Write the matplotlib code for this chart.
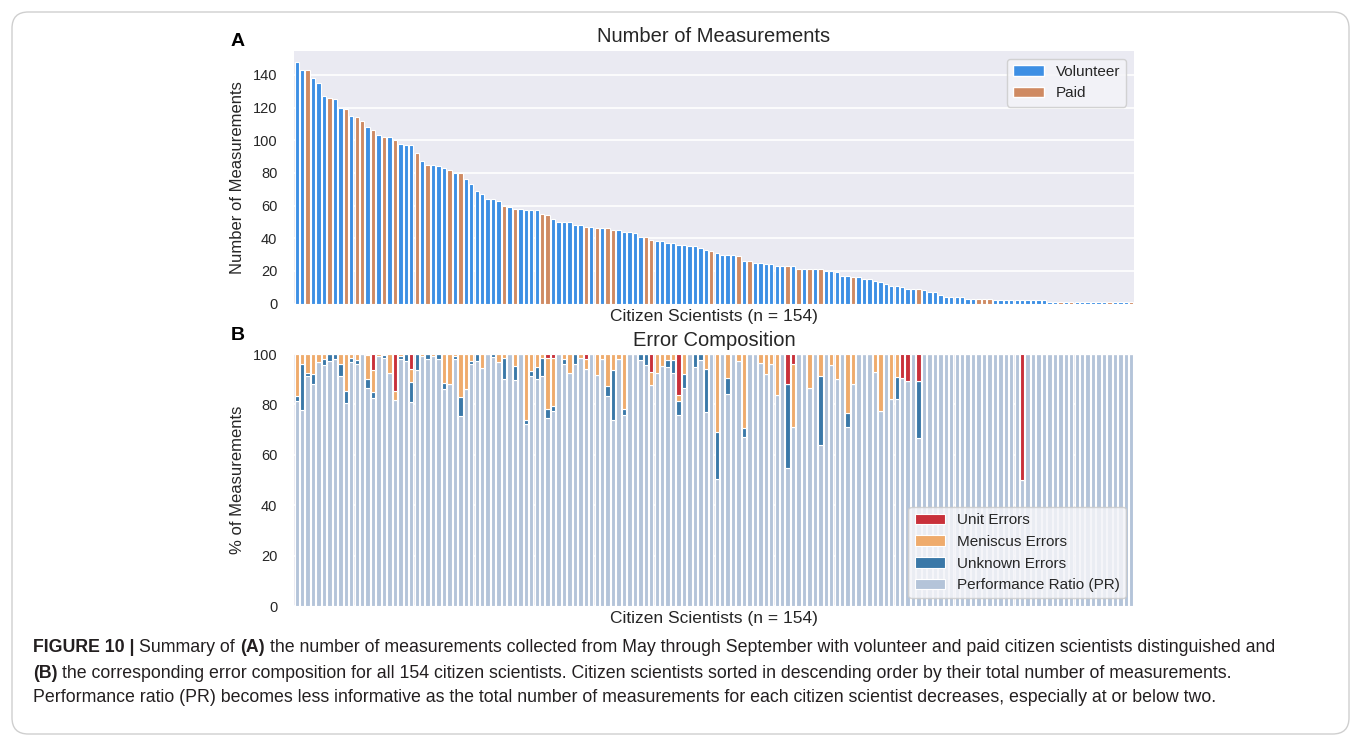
import numpy as np
import matplotlib
matplotlib.use("Agg")
import matplotlib.pyplot as plt
from matplotlib.patches import Patch, FancyBboxPatch

# ---------------- data ----------------
counts = [148, 143, 143, 138, 135, 127, 126, 125, 120, 119, 115, 114, 112, 108, 106, 103, 102, 102, 100, 98,
          97, 97, 92, 87, 85, 85, 84, 83, 82, 80, 80, 76, 73, 69, 67, 64, 64, 63, 60,
          59, 58, 58, 57, 57, 57, 55, 54, 52, 50, 50, 50, 48, 48, 47, 47, 46, 46, 46, 45, 45,
          44, 44, 43, 41, 41, 39, 38, 38, 37, 37, 36, 36, 35, 35, 34, 33, 32, 31,
          30, 30, 30, 29, 26, 26, 25, 25, 24, 24, 23, 23, 23, 23, 21, 21, 21, 21, 21, 20, 20, 19,
          17, 17, 16, 16, 15, 15, 14, 13, 12, 11, 11, 10, 9, 9, 9, 8, 7, 7, 5, 4, 4, 4, 4,
          3, 3, 3, 3, 3, 2, 2, 2, 2, 2, 2, 2, 2, 2, 2,
          1, 1, 1, 1, 1, 1, 1, 1, 1, 1, 1, 1, 1, 1, 1, 1]

# ranks (1-based) of paid citizen scientists
paid_ranks = [3, 7, 10, 12, 13, 15, 17, 19, 23, 25, 29, 31, 39, 41, 46, 47, 54, 56, 58, 59, 65, 66, 77,
              82, 84, 91, 93, 95, 97, 103, 115, 126, 127, 128, 141, 143, 150, 154]

# error composition (% of measurements), by rank
unit_err = [0, 0, 0, 0, 0, 0, 0, 0, 0, 0, 0, 0, 0, 0.5, 6.2, 0, 0, 0, 14.6, 0,
            0, 5.8, 0, 0, 0, 0, 0, 0, 0, 0, 0, 0, 0, 0, 0, 0, 0, 0, 0, 0,
            0, 0, 0, 0, 0, 0, 1.6, 1.6, 0, 0, 0, 0, 0, 1.8, 0, 0, 0, 0, 0, 0,
            0, 0, 0, 0, 0, 7.1, 0, 0, 0, 0, 16.1, 0, 0, 0, 0, 0, 0, 0, 0, 0,
            0, 0, 0, 0, 0, 0, 0, 0, 0, 0, 12.1, 3.8, 0, 0, 0, 0, 0, 0, 0, 0,
            0, 0, 0, 0, 0, 0, 0, 0, 0, 0, 0, 9.6, 10.8, 0, 10.9, 0, 0, 0, 0, 0,
            0, 0, 0, 0, 0, 0, 0, 0, 0, 0, 0, 0, 0, 50, 0, 0, 0, 0, 0, 0,
            0, 0, 0, 0, 0, 0, 0, 0, 0, 0, 0, 0, 0, 0]
meniscus_err = [16.5, 4.1, 7.5, 7.8, 3.3, 2.1, 0, 0, 3.8, 14.6, 1.4, 2.2, 0, 9.4, 8.8, 0.7, 0.5, 7.5, 3.8, 0.8,
                0, 5.4, 0, 0.9, 0, 0.9, 0, 11.5, 11.9, 0.8, 17.1, 14.0, 2.6, 0, 5.5, 0, 0, 3.0, 1.6, 0,
                4.9, 0, 26.1, 6.9, 5.1, 1.4, 20.2, 19.1, 0, 1.8, 7.5, 0, 1.6, 4.1, 0, 8.2, 2.0, 12.5, 6.5, 2.0,
                22.0, 0, 0, 0, 0, 5.1, 7.5, 4.9, 2.5, 2.2, 2.6, 7.9, 0, 0, 0, 5.8, 0, 30.8, 0, 9.5,
                0, 2.9, 29.2, 0, 0, 3.6, 7.8, 3.8, 16.3, 0, 0, 25.0, 0, 0, 13.4, 0, 8.8, 0, 4.3, 9.9,
                0, 23.3, 12.1, 0, 0, 0, 7.0, 22.8, 0, 18.0, 9.2, 0, 0, 0, 0, 0, 0, 0, 0, 0,
                0, 0, 0, 0, 0, 0, 0, 0, 0, 0, 0, 0, 0, 0, 0, 0, 0, 0, 0, 0,
                0, 0, 0, 0, 0, 0, 0, 0, 0, 0, 0, 0, 0, 0]
unknown_err = [2.2, 18.0, 1.3, 4.1, 0, 2.4, 2.9, 2.0, 5.0, 5.0, 1.6, 1.8, 0, 3.7, 2.6, 0, 1.1, 0, 0, 1.1,
               2.8, 7.9, 6.2, 0, 2.1, 0, 2.1, 2.5, 0, 1.2, 7.4, 0, 1.2, 2.6, 0, 0, 1.2, 0, 8.2, 0,
               5.3, 0, 1.8, 1.7, 5.0, 7.4, 3.6, 2.0, 0, 2.0, 0, 4.0, 0, 0, 0, 0, 0, 4.3, 19.5, 0,
               2.2, 0, 0, 2.2, 4.5, 0, 0, 0, 2.6, 5.5, 5.5, 5.4, 0, 5.3, 2.5, 17.4, 0, 18.8, 0, 6.3,
               0, 0, 3.7, 0, 0, 0, 0, 0, 0, 0, 33.3, 0, 0, 0, 0, 0, 27.4, 0, 0, 0,
               0, 5.7, 0, 0, 0, 0, 0, 0, 0, 0, 8.8, 0, 0, 0, 22.3, 0, 0, 0, 0, 0,
               0, 0, 0, 0, 0, 0, 0, 0, 0, 0, 0, 0, 0, 0, 0, 0, 0, 0, 0, 0,
               0, 0, 0, 0, 0, 0, 0, 0, 0, 0, 0, 0, 0, 0]

y_ticks_top = [0, 20, 40, 60, 80, 100, 120, 140]
y_ticks_bot = [0, 20, 40, 60, 80, 100]

caption_lines = [
    [("FIGURE 10 |", True), ("Summary of", False), ("(A)", True),
     ("the number of measurements collected from May through September with volunteer and paid citizen scientists distinguished and", False)],
    [("(B)", True),
     ("the corresponding error composition for all 154 citizen scientists. Citizen scientists sorted in descending order by their total number of measurements.", False)],
    [("Performance ratio (PR) becomes less informative as the total number of measurements for each citizen scientist decreases, especially at or below two.", False)],
]

# ---------------- style ----------------
W, H = 1360, 745
plt.rcParams['font.family'] = ['Liberation Sans', 'DejaVu Sans']
BG = '#EAEAF2'
TXT = '#262626'
C_VOL = '#3d8fe4'
C_PAID = '#cf8a62'
C_UNIT = '#c9303a'
C_MEN = '#efab6c'
C_UNK = '#3a78a8'
C_PR = '#b4c4d9'

fig = plt.figure(figsize=(W / 100, H / 100), dpi=100)
fig.patch.set_facecolor('white')

def ax_rect(l, t, r, b):
    return [l / W, 1 - b / H, (r - l) / W, (b - t) / H]

ax1 = fig.add_axes(ax_rect(294, 51, 1134, 303.5))
ax2 = fig.add_axes(ax_rect(294, 354, 1134, 606))

n = len(counts)
x = np.arange(n)
paid_set = set(paid_ranks)
colors = [C_PAID if (i + 1) in paid_set else C_VOL for i in range(n)]

for ax in (ax1, ax2):
    ax.set_facecolor(BG)
    ax.set_axisbelow(True)
    ax.grid(True, axis='y', color='white', linewidth=1.2)
    for s in ax.spines.values():
        s.set_visible(False)
    ax.set_xticks([])
    ax.tick_params(axis='y', length=0, pad=12, labelsize=10.5, labelcolor=TXT)
    ax.set_xlim(-0.5, n - 0.5)

# ---- panel A ----
ax1.bar(x, counts, width=0.8, color=colors, edgecolor='white', linewidth=0.8)
ax1.set_yticks(y_ticks_top)
ax1.set_ylim(0, max(counts) * 1.045)
ax1.set_ylabel('Number of Measurements', fontsize=12, color=TXT)
ax1.yaxis.set_label_coords((245.5 - 294) / 840, 0.5)
ax1.set_xlabel('Citizen Scientists (n = 154)', fontsize=12.5, color=TXT)
ax1.xaxis.label.set_va('center')
ax1.xaxis.set_label_coords(0.5, -(316 - 303.5) / 252.5)
ax1.set_title('Number of Measurements', fontsize=14.5, color=TXT, y=1 + 15 / 252.5, pad=0, va='center')
leg1 = ax1.legend(handles=[Patch(facecolor=C_VOL, edgecolor='white', label='Volunteer'),
                           Patch(facecolor=C_PAID, edgecolor='white', label='Paid')],
                  loc='upper right', fontsize=11, frameon=True, fancybox=True,
                  facecolor='#f4f4f8', edgecolor='#cccccc', framealpha=0.85)
for t in leg1.get_texts():
    t.set_color(TXT)

# ---- panel B ----
unit_a = np.array(unit_err)
men_a = np.array(meniscus_err)
unk_a = np.array(unknown_err)
pr_a = 100 - (unit_a + men_a + unk_a)
kw = dict(width=0.8, edgecolor='white', linewidth=0.8)
ax2.bar(x, pr_a, color=C_PR, label='Performance Ratio (PR)', **kw)
ax2.bar(x, unk_a, bottom=pr_a, color=C_UNK, label='Unknown Errors', **kw)
ax2.bar(x, men_a, bottom=pr_a + unk_a, color=C_MEN, label='Meniscus Errors', **kw)
ax2.bar(x, unit_a, bottom=pr_a + unk_a + men_a, color=C_UNIT, label='Unit Errors', **kw)
ax2.set_ylim(0, 100)
ax2.set_yticks(y_ticks_bot)
ax2.set_ylabel('% of Measurements', fontsize=12, color=TXT)
ax2.yaxis.set_label_coords((244.5 - 294) / 840, 0.5)
ax2.set_xlabel('Citizen Scientists (n = 154)', fontsize=12.5, color=TXT)
ax2.xaxis.label.set_va('center')
ax2.xaxis.set_label_coords(0.5, -(619 - 606) / 252)
ax2.set_title('Error Composition', fontsize=14.5, color=TXT, y=1 + 14 / 252, pad=0, va='center')
h, l = ax2.get_legend_handles_labels()
leg2 = ax2.legend(h[::-1], l[::-1], loc='lower right', fontsize=11, frameon=True, fancybox=True,
                  facecolor='#f4f4f8', edgecolor='#cccccc', framealpha=0.85)
for t in leg2.get_texts():
    t.set_color(TXT)

# panel letters
fig.text(238 / W, 1 - 42 / H, 'A', fontsize=14, fontweight='bold', ha='center', va='center', color='black')
fig.text(238 / W, 1 - 336 / H, 'B', fontsize=14, fontweight='bold', ha='center', va='center', color='black')

# outer rounded frame
frame = FancyBboxPatch((12 / W, 1 - 734 / H), (1349 - 12) / W, (734 - 12) / H,
                       boxstyle='round,pad=0,rounding_size=0.012', mutation_aspect=W / H,
                       transform=fig.transFigure, facecolor='none', edgecolor='#cfcfcf', linewidth=1.0)
fig.patches.append(frame)

# caption
renderer = fig.canvas.get_renderer()
CAP_FAM = ['Liberation Sans', 'DejaVu Sans']

def text_width(s, size, bold):
    t = fig.text(0, 0, s, fontsize=size, fontweight='bold' if bold else 'normal', family=CAP_FAM)
    w = t.get_window_extent(renderer).width
    t.remove()
    return w

base = 10.0
w3 = text_width(caption_lines[2][0][0], base, False)
cap_size = base * 1190.0 / w3
space_w = text_width('a a', cap_size, False) - text_width('aa', cap_size, False)

ys = [648, 674, 698]
for line, yp in zip(caption_lines, ys):
    xp = 33.0
    for seg, bold in line:
        t = fig.text(xp / W, 1 - yp / H, seg, fontsize=cap_size, fontweight='bold' if bold else 'normal',
                     family=CAP_FAM, ha='left', va='center', color='#231f20')
        xp += t.get_window_extent(renderer).width + space_w

fig.savefig('out.png', dpi=100, facecolor='white')
